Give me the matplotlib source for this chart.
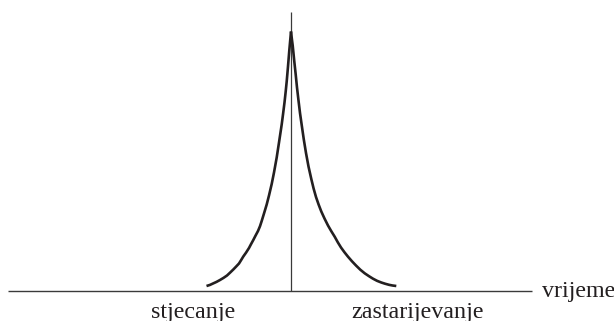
import matplotlib.pyplot as plt

# curve: time offset from the peak vs. height above the time axis
left_t = [-84.5, -81, -78, -74.5, -71, -67.5, -64, -61, -57.7, -55, -52, -50, -47.7,
          -45, -42, -40, -37.7, -35.5, -33, -31, -29.3, -27, -24.3, -22, -19.3,
          -17, -14.3, -12, -9.3, -8, -6.5, -5.3, -4.3, -3, -1.7, -0.8, 0]
left_h = [4.5, 5.6, 7, 8.6, 10.5, 12.6, 15, 17.8, 21, 23.8, 27, 30.2, 34,
          37.8, 42.5, 46.3, 50.5, 54.8, 59.5, 64.3, 69.5, 77, 86, 95, 106.5,
          118, 133, 148, 166, 176, 188, 199, 209, 224, 240, 250, 259]

right_t = [0, 0.8, 1.7, 3.2, 4.7, 6, 7.5, 9, 10.7, 12.8, 15, 17.5, 20.3, 22.6, 25,
           27.6, 30.3, 33.5, 37, 40.3, 43.7, 46.8, 50, 53.5, 57, 61, 65, 69.3,
           73.7, 78, 82, 86, 90.3, 94, 98, 101.5, 105.3]
right_h = [259, 252, 245, 230, 216, 203, 190, 177.5, 165.5, 151, 137.5, 124, 111.5,
           102, 93.5, 86, 79, 72, 65, 59.3, 53.8, 48.2, 43, 38.2, 33.8, 29.2,
           25, 20.8, 17.2, 14.3, 11.8, 9.7, 8, 6.8, 5.7, 5, 4.5]

axis_t = [-283, 241]
axis_h = [0, 0]
peak_t = [0, 0]
peak_h = [0, 278.5]

LABEL_LEFT = 'stjecanje'
LABEL_RIGHT = 'zastarijevanje'
LABEL_AXIS = 'vrijeme'

CURVE_COLOR = '#231f20'
LINE_COLOR = '#3a3a3a'

plt.rcParams['font.family'] = ['Liberation Serif', 'DejaVu Serif']

fig = plt.figure(figsize=(6.14, 3.21), dpi=100)
ax = fig.add_axes([0, 0, 1, 1])
ax.set_xlim(-291, 323)
ax.set_ylim(-30.5, 290.5)
ax.axis('off')

# time axis and the vertical line through the peak
ax.plot(axis_t, axis_h, color=LINE_COLOR, linewidth=1.0, solid_capstyle='butt')
ax.plot(peak_t, peak_h, color=LINE_COLOR, linewidth=0.9, solid_capstyle='butt')

# the two flanks
ax.plot(left_t, left_h, color=CURVE_COLOR, linewidth=1.9,
        solid_capstyle='butt', solid_joinstyle='round')
ax.plot(right_t, right_h, color=CURVE_COLOR, linewidth=1.9,
        solid_capstyle='butt', solid_joinstyle='round')

ax.text(-98, -27.5, LABEL_LEFT, fontsize=17.3, ha='center', va='baseline', color='#231f20')
ax.text(126.5, -27.5, LABEL_RIGHT, fontsize=17.3, ha='center', va='baseline', color='#231f20')
ax.text(250.7, -6.2, LABEL_AXIS, fontsize=17.3, ha='left', va='baseline', color='#231f20')

fig.savefig('out.png', dpi=100)
plt.close(fig)
